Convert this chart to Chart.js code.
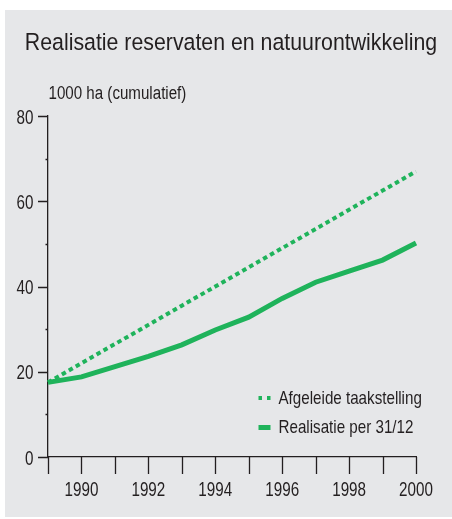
<!DOCTYPE html>
<html lang="nl">
<head>
<meta charset="utf-8">
<title>Realisatie reservaten en natuurontwikkeling</title>
<script src="https://cdn.jsdelivr.net/npm/chart.js@4.4.1/dist/chart.umd.min.js"></script>
<style>
  html, body { margin: 0; padding: 0; background: #fff; }
  #paneel { position: absolute; left: 5px; top: 10px; width: 447px; height: 507px; background: #e6e7e9; }
  #grafiek { position: absolute; left: 0; top: 0; }
</style>
</head>
<body>
<div id="paneel"></div>
<canvas id="grafiek" width="452" height="519"></canvas>
<script>
// Realisatie reservaten en natuurontwikkeling, 1000 ha cumulatief

var jaren = [1989, 1990, 1991, 1992, 1993, 1994, 1995, 1996, 1997, 1998, 1999, 2000];
var taakstelling = [17.5, 22, 26.5, 31, 35.5, 40, 44.5, 49, 53.5, 58, 62.5, 67];
var realisatie = [17.5, 18.8, 21.2, 23.6, 26.3, 29.8, 32.8, 37.2, 41, 43.6, 46.2, 50.2];
var yLabels = [0, 20, 40, 60, 80];

var titel = 'Realisatie reservaten en natuurontwikkeling';
var eenheid = '1000 ha (cumulatief)';

var groen = '#1fb35b';
var inkt = '#231f20';
var lettertype = "'Liberation Sans', Arial, sans-serif";

// smalle letter nabootsen: tekst horizontaal samendrukken
function tekst(ctx, s, x, y, grootte, smal, uitlijning) {
  ctx.save();
  ctx.font = grootte + 'px ' + lettertype;
  ctx.fillStyle = inkt;
  ctx.textBaseline = 'alphabetic';
  ctx.textAlign = uitlijning;
  ctx.translate(x, y);
  ctx.scale(smal, 1);
  ctx.fillText(s, 0, 0);
  ctx.restore();
}

var extras = {
  id: 'extras',
  afterDraw: function (chart) {
    var ctx = chart.ctx;
    var xs = chart.scales.x, ys = chart.scales.y;
    var area = chart.chartArea;
    ctx.save();

    tekst(ctx, titel, 231, 50, 24.5, 0.87, 'center');
    tekst(ctx, eenheid, 48.5, 98.5, 18, 0.84, 'left');

    // streepjes
    ctx.strokeStyle = inkt;
    ctx.lineWidth = 1.3;
    ctx.beginPath();
    for (var v = 0; v <= 80; v += 10) {
      var y = Math.round(ys.getPixelForValue(v)) + 0.5;
      var lang = (yLabels.indexOf(v) >= 0) ? 10 : 2.5;
      ctx.moveTo(area.left - lang, y);
      ctx.lineTo(area.left, y);
    }
    jaren.forEach(function (j, i) {
      var x = Math.round(xs.getPixelForValue(i)) + 0.5;
      ctx.moveTo(x, area.bottom);
      ctx.lineTo(x, area.bottom + 17);
    });
    ctx.stroke();

    // aslabels
    yLabels.forEach(function (v) {
      tekst(ctx, String(v), area.left - 14.5, ys.getPixelForValue(v) + 7.5, 19.5, 0.78, 'right');
    });
    jaren.forEach(function (j, i) {
      if (j % 2 === 0) tekst(ctx, String(j), xs.getPixelForValue(i), area.bottom + 38.5, 19.5, 0.78, 'center');
    });

    // legenda
    var lx = 258.5, ly = 398, stap = 29.5;
    var legDash = [[3.5, 5], []];
    chart.data.datasets.forEach(function (ds, i) {
      var y = ly + i * stap;
      ctx.strokeStyle = ds.borderColor;
      ctx.lineWidth = ds.borderWidth;
      ctx.setLineDash(legDash[i]);
      ctx.lineCap = 'butt';
      ctx.beginPath();
      ctx.moveTo(lx, y);
      ctx.lineTo(lx + 12, y);
      ctx.stroke();
      ctx.setLineDash([]);
      tekst(ctx, ds.label, lx + 20, y + 5.5, 18.5, 0.82, 'left');
    });
    ctx.restore();
  }
};

new Chart(document.getElementById('grafiek').getContext('2d'), {
  type: 'line',
  data: {
    labels: jaren.map(String),
    datasets: [
      {
        label: 'Afgeleide taakstelling',
        data: taakstelling,
        borderColor: groen,
        borderWidth: 4,
        borderDash: [4.5, 3.5],
        borderCapStyle: 'butt',
        pointRadius: 0,
        tension: 0,
      },
      {
        label: 'Realisatie per 31/12',
        data: realisatie,
        borderColor: groen,
        borderWidth: 5,
        pointRadius: 0,
        tension: 0,
      },
    ],
  },
  options: {
    responsive: false,
    animation: false,
    layout: { padding: { top: 116, left: 0, right: 36, bottom: 0 } },
    plugins: { legend: { display: false }, tooltip: { enabled: false }, title: { display: false } },
    scales: {
      x: {
        offset: false,
        grid: { drawOnChartArea: false, drawTicks: false },
        border: { display: true, color: inkt, width: 1.3 },
        ticks: { display: false, autoSkip: false },
        afterFit: function (s) { s.height = 62; },
      },
      y: {
        min: 0, max: 80,
        grid: { drawOnChartArea: false, drawTicks: false },
        border: { display: true, color: inkt, width: 1.3 },
        ticks: { display: false, stepSize: 10 },
        afterFit: function (s) { s.width = 48; },
      },
    },
  },
  plugins: [extras],
});
</script>
</body>
</html>
